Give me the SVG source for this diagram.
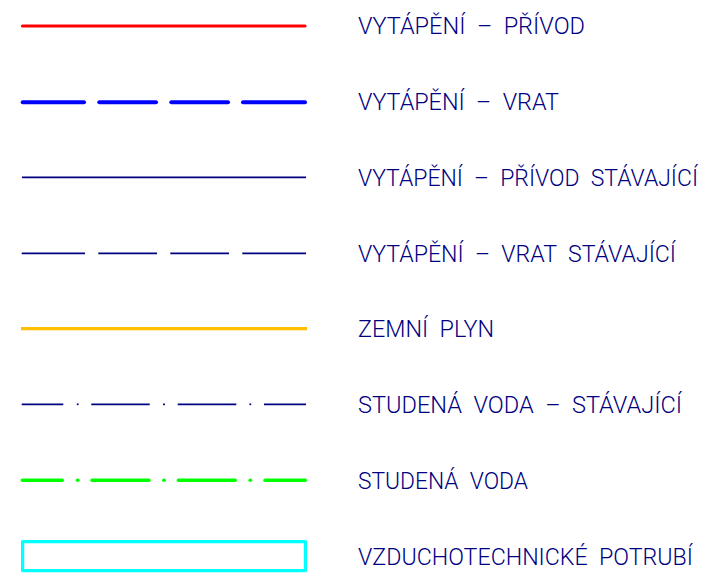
<svg xmlns="http://www.w3.org/2000/svg" width="708" height="574" viewBox="0 0 708 574">
<style>
.t{font-family:"Roboto","Liberation Sans","DejaVu Sans",sans-serif;font-weight:300;font-size:24px;fill:#000080;white-space:pre;}
.red{stroke:#ff0000;stroke-width:3.2;stroke-linecap:round;fill:none}
.blue{stroke:#0000ff;stroke-width:4;stroke-linecap:round;fill:none}
.navy{stroke:#000080;stroke-width:1.7;fill:none}
.orange{stroke:#ffbf00;stroke-width:3.2;fill:none}
.green{stroke:#00ff00;stroke-width:3.6;stroke-linecap:round;fill:none}
.cyan{stroke:#00ffff;stroke-width:3.2;fill:none;stroke-linejoin:round}
</style>
<rect width="708" height="574" fill="#ffffff"/>
<g id="connectors">
<g id="line-privod"><line class="red" x1="22.5" y1="26" x2="305" y2="26"/></g>
<g id="line-vrat">
<line class="blue" x1="22.7" y1="102.3" x2="84" y2="102.3"/>
<line class="blue" x1="99.3" y1="102.3" x2="156" y2="102.3"/>
<line class="blue" x1="171.3" y1="102.3" x2="228" y2="102.3"/>
<line class="blue" x1="243" y1="102.3" x2="305" y2="102.3"/>
</g>
<g id="line-privod-stav"><line class="navy" x1="22" y1="177.3" x2="306" y2="177.3"/></g>
<g id="line-vrat-stav">
<line class="navy" x1="21.7" y1="253.3" x2="85" y2="253.3"/>
<line class="navy" x1="98.3" y1="253.3" x2="157" y2="253.3"/>
<line class="navy" x1="170.3" y1="253.3" x2="229" y2="253.3"/>
<line class="navy" x1="242.3" y1="253.3" x2="306" y2="253.3"/>
</g>
<g id="line-plyn"><line class="orange" x1="21" y1="328.7" x2="307" y2="328.7"/></g>
<g id="line-sv-stav">
<line class="navy" x1="21.7" y1="404.3" x2="63.3" y2="404.3"/>
<line class="navy" x1="76.8" y1="404.3" x2="78.6" y2="404.3"/>
<line class="navy" x1="91.3" y1="404.3" x2="149.7" y2="404.3"/>
<line class="navy" x1="163.1" y1="404.3" x2="164.9" y2="404.3"/>
<line class="navy" x1="177.7" y1="404.3" x2="236.3" y2="404.3"/>
<line class="navy" x1="249.4" y1="404.3" x2="251.2" y2="404.3"/>
<line class="navy" x1="264" y1="404.3" x2="306" y2="404.3"/>
</g>
<g id="line-sv">
<line class="green" x1="22.5" y1="480.3" x2="62.2" y2="480.3"/>
<line class="green" x1="77.6" y1="480.3" x2="77.8" y2="480.3"/>
<line class="green" x1="92.1" y1="480.3" x2="148.9" y2="480.3"/>
<line class="green" x1="163.9" y1="480.3" x2="164.1" y2="480.3"/>
<line class="green" x1="178.5" y1="480.3" x2="235.2" y2="480.3"/>
<line class="green" x1="250.2" y1="480.3" x2="250.4" y2="480.3"/>
<line class="green" x1="265.1" y1="480.3" x2="305.2" y2="480.3"/>
</g>
<g id="rect-vzt"><rect class="cyan" x="22.6" y="541.6" width="282.8" height="29"/></g>
</g>
<g id="labels">
<g id="label-1"><text class="t" xml:space="preserve" x="358" y="34" textLength="227" lengthAdjust="spacingAndGlyphs">VYTÁPĚNÍ  –  PŘÍVOD</text></g>
<g id="label-2"><text class="t" xml:space="preserve" x="358" y="110" textLength="201" lengthAdjust="spacingAndGlyphs">VYTÁPĚNÍ  –  VRAT</text></g>
<g id="label-3"><text class="t" xml:space="preserve" x="358" y="186" textLength="340" lengthAdjust="spacingAndGlyphs">VYTÁPĚNÍ  –  PŘÍVOD  STÁVAJÍCÍ</text></g>
<g id="label-4"><text class="t" xml:space="preserve" x="358" y="262" textLength="318" lengthAdjust="spacingAndGlyphs">VYTÁPĚNÍ  –  VRAT  STÁVAJÍCÍ</text></g>
<g id="label-5"><text class="t" xml:space="preserve" x="358" y="337" textLength="136" lengthAdjust="spacingAndGlyphs">ZEMNÍ  PLYN</text></g>
<g id="label-6"><text class="t" xml:space="preserve" x="358" y="413" textLength="324" lengthAdjust="spacingAndGlyphs">STUDENÁ  VODA  –  STÁVAJÍCÍ</text></g>
<g id="label-7"><text class="t" xml:space="preserve" x="358" y="489" textLength="170" lengthAdjust="spacingAndGlyphs">STUDENÁ  VODA</text></g>
<g id="label-8"><text class="t" xml:space="preserve" x="358" y="565" textLength="335" lengthAdjust="spacingAndGlyphs">VZDUCHOTECHNICKÉ  POTRUBÍ</text></g>
</g>
</svg>
